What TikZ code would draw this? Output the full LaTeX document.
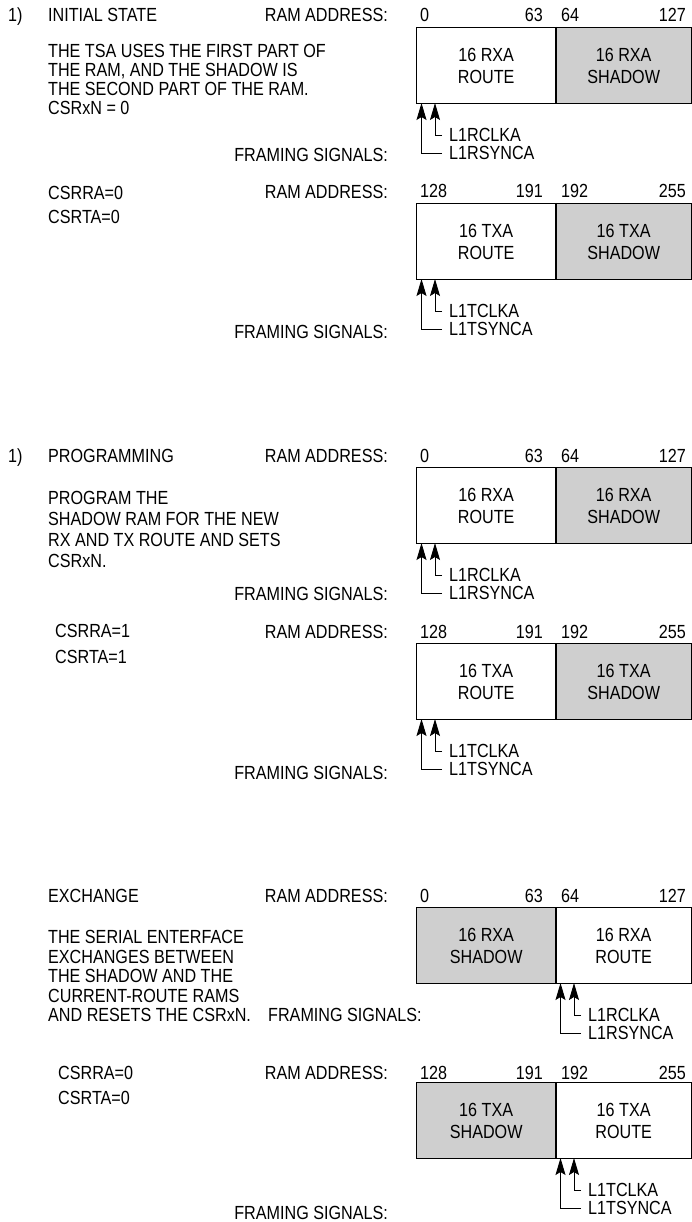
\documentclass[tikz,border=0pt]{standalone}
\usepackage{fontspec}
\setmainfont{Liberation Sans}[FakeStretch=0.85]
\usetikzlibrary{arrows.meta}
% #1 id, #2 top y, #3 left style, #4 right style, #5 left text, #6 right text, #7 arrow base x, #8 R/T
\newcommand\ramrow[8]{%
  \node[cell,#3,minimum width=139pt,anchor=north west] (#1L) at (416,#2) {#5};
  \node[cell,#4,minimum width=136pt,anchor=north west] (#1R) at (555,#2) {#6};
  \draw[divider] (#1L.north east) -- (#1L.south east);
  \coordinate (#1tA) at (#7+5.5,#2+76);
  \coordinate (#1tB) at (#7+19,#2+76);
  \node[txt] (#1clk) at (#7+33,#2+108) {L1#8CLKA};
  \node[txt] (#1syn) at (#7+33,#2+126) {L1#8SYNCA};
  \draw[sig] ([xshift=-7pt]#1clk.west) -| (#1tB);
  \draw[sig] ([xshift=-7pt]#1syn.west) -| (#1tA);
}
% #1 id, #2 y, #3-#6 numbers
\newcommand\addrs[6]{%
  \node[txt] (#1a0) at (420,#2) {#3};
  \node[txtr] (#1a1) at (543,#2) {#4};
  \node[txt] (#1a2) at (561,#2) {#5};
  \node[txtr] (#1a3) at (686,#2) {#6};
}
\begin{document}
\begin{tikzpicture}[x=1pt,y=-1pt,
  txt/.style={inner sep=0pt, anchor=base west, yshift=-6.8pt, font=\fontsize{19}{21}\selectfont},
  txtr/.style={txt, anchor=base east},
  cell/.style={draw=black, line width=1.3pt, minimum height=76pt, inner sep=0pt, align=center, font=\fontsize{19}{22}\selectfont},
  shadow/.style={fill=black!19},
  plain/.style={fill=white},
  divider/.style={line width=2.2pt},
  sig/.style={line width=0.9pt, -{Stealth[length=17pt,width=10pt,inset=3pt]}}
]
\fill[white] (0,0) rectangle (691,1222);
\useasboundingbox (0,0) rectangle (691,1222);

% ---------- Panel 1 ----------
\node[txt] (n1) at (8,15) {1)};
\node[txt] (t1) at (48,15) {INITIAL STATE};
\node[txtr] (r1) at (388,15) {RAM ADDRESS:};
\node[txt] (p1a) at (48,51) {THE TSA USES THE FIRST PART OF};
\node[txt] (p1b) at (48,70) {THE RAM, AND THE SHADOW IS};
\node[txt] (p1c) at (48,89) {THE SECOND PART OF THE RAM.};
\node[txt] (p1d) at (48,108) {CSRxN = 0};
\node[txtr] (f1) at (388,155) {FRAMING SIGNALS:};
\node[txt] (c1) at (48,193) {CSRRA=0};
\node[txt] (c2) at (48,217) {CSRTA=0};
\node[txtr] (r2) at (388,192) {RAM ADDRESS:};
\node[txtr] (f2) at (388,332) {FRAMING SIGNALS:};
\ramrow{a}{27}{plain}{shadow}{16 RXA\\ROUTE}{16 RXA\\SHADOW}{416}{R}
\addrs{a}{15}{0}{63}{64}{127}
\ramrow{b}{203}{plain}{shadow}{16 TXA\\ROUTE}{16 TXA\\SHADOW}{416}{T}
\addrs{b}{191}{128}{191}{192}{255}

% ---------- Panel 2 ----------
\node[txt] (n2) at (8,456) {1)};
\node[txt] (t2) at (48,456) {PROGRAMMING};
\node[txtr] (r3) at (388,456) {RAM ADDRESS:};
\node[txt] (p2a) at (48,498) {PROGRAM THE};
\node[txt] (p2b) at (48,519) {SHADOW RAM FOR THE NEW};
\node[txt] (p2c) at (48,540) {RX AND TX ROUTE AND SETS};
\node[txt] (p2d) at (48,561) {CSRxN.};
\node[txtr] (f3) at (388,594) {FRAMING SIGNALS:};
\node[txt] (c3) at (55,631) {CSRRA=1};
\node[txt] (c4) at (55,657) {CSRTA=1};
\node[txtr] (r4) at (388,632) {RAM ADDRESS:};
\node[txtr] (f4) at (388,773) {FRAMING SIGNALS:};
\ramrow{c}{467}{plain}{shadow}{16 RXA\\ROUTE}{16 RXA\\SHADOW}{416}{R}
\addrs{c}{456}{0}{63}{64}{127}
\ramrow{d}{643}{plain}{shadow}{16 TXA\\ROUTE}{16 TXA\\SHADOW}{416}{T}
\addrs{d}{632}{128}{191}{192}{255}

% ---------- Panel 3 ----------
\node[txt] (t3) at (48,896) {EXCHANGE};
\node[txtr] (r5) at (388,896) {RAM ADDRESS:};
\node[txt] (p3a) at (48,937) {THE SERIAL ENTERFACE};
\node[txt] (p3b) at (48,956.5) {EXCHANGES BETWEEN};
\node[txt] (p3c) at (48,976) {THE SHADOW AND THE};
\node[txt] (p3d) at (48,995.5) {CURRENT-ROUTE RAMS};
\node[txt] (p3e) at (48,1015) {AND RESETS THE CSRxN.};
\node[txt] (f5) at (268,1015) {FRAMING SIGNALS:};
\node[txt] (c5) at (58,1073) {CSRRA=0};
\node[txt] (c6) at (58,1098) {CSRTA=0};
\node[txtr] (r6) at (388,1073) {RAM ADDRESS:};
\node[txtr] (f6) at (388,1213) {FRAMING SIGNALS:};
\ramrow{e}{907}{shadow}{plain}{16 RXA\\SHADOW}{16 RXA\\ROUTE}{555}{R}
\addrs{e}{896}{0}{63}{64}{127}
\ramrow{f}{1082}{shadow}{plain}{16 TXA\\SHADOW}{16 TXA\\ROUTE}{555}{T}
\addrs{f}{1073}{128}{191}{192}{255}
\end{tikzpicture}
\end{document}
